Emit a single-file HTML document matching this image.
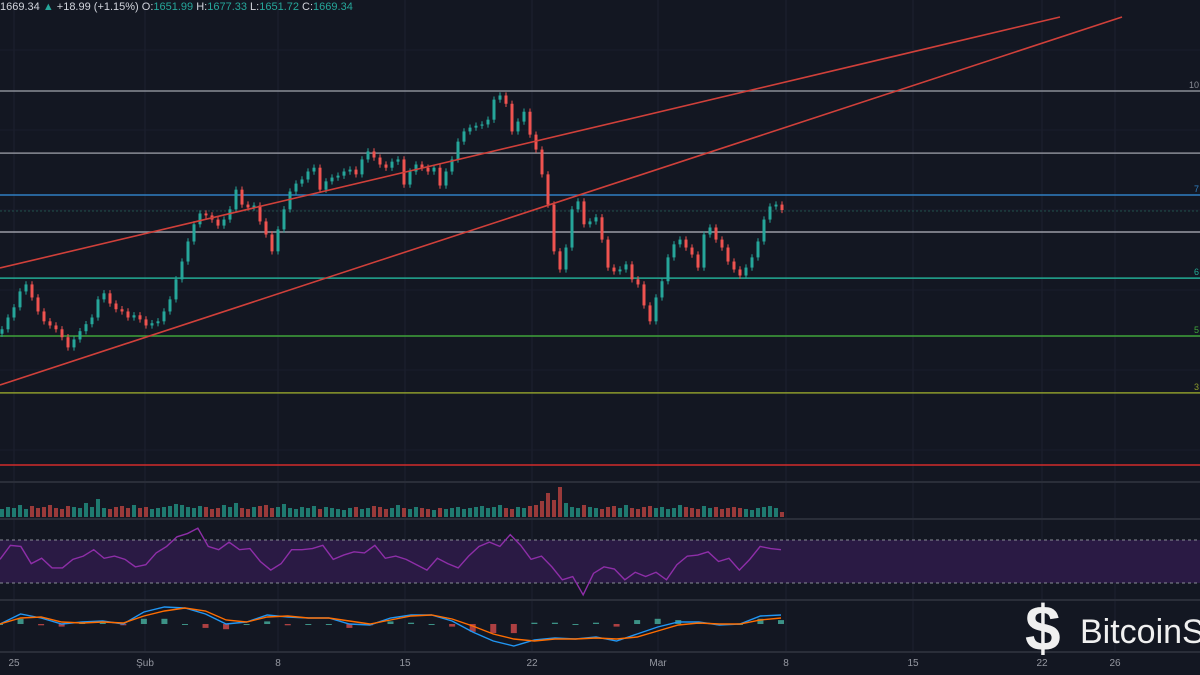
<!DOCTYPE html>
<html><head><meta charset="utf-8"><style>
html,body{margin:0;padding:0;background:#131722;width:1200px;height:675px;overflow:hidden;font-family:"Liberation Sans",sans-serif}
</style></head><body>
<svg id="chart" width="1200" height="675" xmlns="http://www.w3.org/2000/svg" style="display:block">
<rect width="1200" height="675" fill="#131722"/>
<g id="grid"></g>
<g id="levels"></g>
<g id="candles"></g>
<g id="trend"></g>
<g id="volume"></g>
<g id="rsi"></g>
<g id="macd"></g>
<g id="axis"></g>
<text x="0" y="10" font-size="11" fill="#d1d4dc">1669.34 <tspan fill="#26a69a">▲</tspan> +18.99 (+1.15%) O:<tspan fill="#26a69a">1651.99</tspan> H:<tspan fill="#26a69a">1677.33</tspan> L:<tspan fill="#26a69a">1651.72</tspan> C:<tspan fill="#26a69a">1669.34</tspan></text>
<g>
<text x="1025" y="650" font-size="64" font-weight="bold" fill="#f0f0f0">$</text>
<text x="1080" y="643" font-size="34" fill="#f0f0f0">BitcoinSistemi</text>
</g>
</svg>
<script>
const NS='http://www.w3.org/2000/svg';
const closes=[1294,1331,1363,1413,1435,1394,1350,1319,1306,1294,1269,1237,1262,1288,1310,1331,1388,1407,1375,1357,1350,1331,1338,1325,1306,1313,1319,1350,1388,1451,1507,1570,1624,1658,1652,1639,1620,1639,1671,1733,1686,1677,1683,1633,1592,1539,1608,1671,1727,1752,1765,1790,1802,1733,1759,1771,1777,1790,1796,1781,1828,1853,1834,1812,1802,1821,1828,1749,1790,1812,1802,1790,1802,1746,1790,1828,1884,1916,1928,1934,1938,1953,2016,2029,2003,1916,1947,1978,1906,1859,1781,1686,1539,1482,1551,1671,1696,1624,1633,1646,1576,1488,1476,1482,1498,1451,1435,1369,1319,1394,1445,1520,1561,1576,1551,1529,1488,1592,1614,1576,1551,1507,1482,1463,1488,1520,1570,1639,1680,1686,1669];
const firstOpen=1280;
const volumes=[8,10,9,12,8,11,9,10,12,9,8,11,10,9,14,10,18,9,8,10,11,9,12,9,10,8,9,10,11,13,12,10,9,11,10,8,9,12,10,14,9,8,10,11,12,9,10,13,9,8,10,9,11,8,10,9,8,7,9,10,8,9,11,10,8,9,12,9,8,10,9,8,7,9,8,9,10,8,9,10,11,9,10,12,9,8,10,9,11,12,16,24,17,30,14,10,9,12,10,9,8,10,11,9,12,9,8,10,11,9,10,8,9,12,10,9,8,11,9,10,8,9,10,9,8,7,9,10,11,9,5];
const rsiVals=[52,65,64,48,53,44,44,52,55,61,53,55,52,45,47,58,64,73,76,81,64,61,68,61,62,50,42,48,61,61,62,65,52,56,59,58,65,53,55,52,47,42,53,48,44,55,64,68,64,75,65,52,55,45,33,36,19,39,45,43,33,40,36,40,33,47,55,56,59,50,53,42,52,64,62,61];
const macdVals=[0,10,6,0,2,3,0,12,17,16,10,0,2,9,7,6,6,0,-1,6,9,9,3,-8,-17,-22,-16,-14,-15,-13,-17,-10,-3,2,2,-1,0,8,9];
const signalVals=[0,6,7,2,1,2,1,8,13,16,13,4,2,7,8,6,6,3,0,4,8,9,5,-2,-10,-15,-17,-15,-15,-14,-15,-13,-7,-1,1,0,0,4,6];
const dateTicks=['25','Şub','8','15','22','Mar','8','15','22','26'];
const tickPos=[14,145,278,405,532,658,786,913,1042,1115];
const levelPrices=[2043,1848,1716,1600,1455,1273,1094];
const levelLabels=['10','','7','','6','5','3'];
const levelColors=['#8a8d96','#8a8d96','#2f7fc1','#9a9ca5','#22ab94','#3fa33a','#8b9a2c'];

const yP=p=>210-(p-1669)/3.144;
const xC=i=>2+i*6;
function el(tag,attrs,parent){const e=document.createElementNS(NS,tag);for(const k in attrs)e.setAttribute(k,attrs[k]);parent.appendChild(e);return e;}
const G=id=>document.getElementById(id);

const grid=G('grid');
tickPos.forEach((x,i)=>{const l=el('line',{x1:x,x2:x,y1:0,y2:652,stroke:'#1c2030','stroke-width':1},grid);

});
[50,130,210,290,370,450].forEach(y=>{const l=el('line',{x1:0,x2:1200,y1:y,y2:y,stroke:'#1a1e2c'},grid);

});
[482,519,600,652].forEach(y=>{const l=el('line',{x1:0,x2:1200,y1:y,y2:y,stroke:'#2a2e39','stroke-width':2},grid);

});

const lv=G('levels');
levelPrices.forEach((p,i)=>{const y=yP(p);const l=el('line',{x1:0,x2:1200,y1:y,y2:y,stroke:levelColors[i],'stroke-width':1.5},lv);


if(levelLabels[i]){const t=el('text',{x:1199,y:y-3,'text-anchor':'end','font-size':9,fill:levelColors[i]},lv);t.textContent=levelLabels[i];

}});
const dl=el('line',{x1:0,x2:1200,y1:211,y2:211,stroke:'#1f4f4a','stroke-dasharray':'2,2'},lv);


const rl=el('line',{x1:0,x2:1200,y1:465,y2:465,stroke:'#d12b2b','stroke-width':1.5},lv);



const cg=G('candles');
closes.forEach((c,i)=>{const o=i?closes[i-1]:firstOpen;const up=c>=o;const col=up?'#26a69a':'#ef5350';
const x=xC(i);const hi=Math.max(o,c)+10,lo=Math.min(o,c)-10;
const w=el('line',{x1:x,x2:x,y1:yP(hi),y2:yP(lo),stroke:col,'stroke-width':1},cg);


const yt=yP(Math.max(o,c)),yb=yP(Math.min(o,c));
const b=el('rect',{x:x-1.5,y:yt,width:3,height:Math.max(1,yb-yt),fill:col},cg);

});

const tg=G('trend');
[[0,268,1060,17],[0,385,1122,17]].forEach(a=>{const l=el('line',{x1:a[0],y1:a[1],x2:a[2],y2:a[3],stroke:'#d0403a','stroke-width':1.6},tg);

});

const vg=G('volume');
volumes.forEach((v,i)=>{const o=i?closes[i-1]:firstOpen;const up=closes[i]>=o;
const r=el('rect',{x:xC(i)-2,y:517-v,width:4,height:v,fill:up?'#1f7a70':'#9a3a3a'},vg);

});

const rg=G('rsi');
const yR=v=>540+(70-v)*1.075;
const band=el('rect',{x:0,y:yR(70),width:1200,height:yR(30)-yR(70),fill:'#2a1a44'},rg);


[70,30].forEach(v=>{const l=el('line',{x1:0,x2:1200,y1:yR(v),y2:yR(v),stroke:'#8a8d96','stroke-dasharray':'3,3'},rg);

});
const rstep=781/(rsiVals.length-1);
const rp=el('polyline',{points:rsiVals.map((v,i)=>(i*rstep)+','+yR(v)).join(' '),fill:'none',stroke:'#8e2ea8','stroke-width':1.4},rg);



const mg=G('macd');
const yM=v=>624-v;
const mstep=781/(macdVals.length-1);
macdVals.forEach((m,i)=>{const h=(m-signalVals[i])*1.3;
const r=el('rect',{x:i*mstep-3,y:Math.min(yM(0),yM(h)),width:6,height:Math.max(1,Math.abs(h)),fill:h>=0?'#4fc7b0':'#ef5350',opacity:0.7},mg);

});
const ml=el('polyline',{points:macdVals.map((v,i)=>(i*mstep)+','+yM(v)).join(' '),fill:'none',stroke:'#2196f3','stroke-width':1.4},mg);


const sl=el('polyline',{points:signalVals.map((v,i)=>(i*mstep)+','+yM(v)).join(' '),fill:'none',stroke:'#ff6d00','stroke-width':1.4},mg);



const ag=G('axis');
dateTicks.forEach((t,i)=>{const tx=el('text',{x:tickPos[i],y:666,'text-anchor':'middle','font-size':10,fill:'#9598a1'},ag);tx.textContent=t;

});
</script>
</body></html>
